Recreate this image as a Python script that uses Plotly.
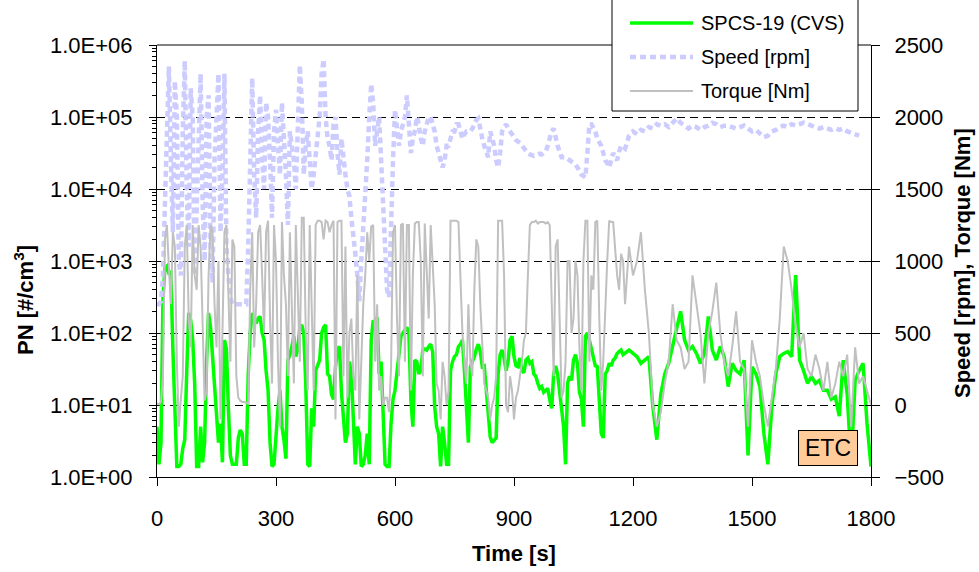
import plotly.graph_objects as go

# ---------------- data ----------------
# 5 s steps up to 1175 s, 10 s steps afterwards
time_s = list(range(0, 1180, 5)) + list(range(1180, 1801, 10))
speed_time_s = list(range(0, 1180, 5)) + list(range(1180, 1771, 10))

pn_spcs19 = [
    # 0 .. 95 (5 s)
    5, 1.5, 3, 300, 800, 850, 680, 700, 60, 8,
    1.4, 1.4, 1.5, 2.5, 3.3, 30, 190, 150, 80, 20,
    # 100 .. 195
    1.4, 1.4, 5, 1.6, 3, 40, 190, 120, 47, 20,
    10, 3, 5.5, 1.6, 80, 60, 9, 2, 1.5, 1.5,
    # 200 .. 295
    1.5, 3.5, 4.5, 4, 1.5, 1.5, 27, 100, 190, 150,
    136, 160, 170, 100, 80, 30, 16, 3, 1.4, 1.5,
    # 300 .. 395
    4, 9, 16, 5, 3.3, 1.8, 42, 50, 65, 90,
    47, 60, 120, 130, 100, 20, 1.5, 1.4, 9, 5,
    # 400 .. 495
    30, 35, 42, 100, 120, 130, 27, 25, 14, 12,
    34, 60, 65, 15, 5.5, 3, 4, 40, 27, 8,
    # 500 .. 595
    1.5, 5, 4, 1.4, 1.5, 2, 4, 1.5, 80, 150,
    136, 165, 27, 40, 5.5, 1.5, 1.4, 1.4, 5.5, 12,
    # 600 .. 695
    16, 30, 47, 90, 100, 110, 120, 100, 12, 5,
    42, 40, 27, 30, 58, 60, 58, 65, 70, 55,
    # 700 .. 795
    9.5, 5, 4, 1.4, 5, 3, 1.5, 1.5, 30, 40,
    47, 50, 65, 70, 80, 30, 9.5, 3, 34, 40,
    # 800 .. 895
    47, 60, 70, 55, 34, 35, 16, 6, 3.6, 3,
    3.3, 3.5, 27, 50, 58, 45, 30, 40, 80, 90,
    # 900 .. 995
    47, 35, 34, 45, 30, 28, 42, 45, 38, 40,
    27, 25, 20, 17, 18, 15, 16, 17, 12, 9,
    # 1000 .. 1095
    27, 35, 27, 15, 9.5, 5, 1.5, 20, 25, 22,
    42, 50, 38, 15, 12, 5, 90, 100, 80, 60,
    # 1100 .. 1175
    47, 35, 34, 12, 4, 3.5, 27, 30, 38, 35,
    42, 45, 52, 55, 58, 50,
    # 1180 .. 1800 (10 s)
    52, 58,
    52, 47, 38, 42, 47, 9.5, 3.3, 14, 27, 38,
    65, 110, 200, 80, 58, 65, 52, 38, 52, 170,
    58, 42, 65, 47, 18, 38, 30, 27, 42, 2,
    34, 27, 18, 4, 1.5, 9.5, 27, 47, 52, 55,
    47, 640, 42, 30, 20, 25, 20, 22, 16, 16,
    12, 13, 7, 42, 14, 1.5, 22, 30, 38, 5.5,
    1.4,
]

speed_rpm = [
    # 0 .. 95 (5 s)
    700, 700, 720, 900, 1400, 1900, 2350, 1700, 1200, 2250,
    2000, 1000, 900, 1900, 2390, 1500, 1100, 2200, 2000, 900,
    # 100 .. 195
    1300, 1800, 2300, 1400, 1000, 2000, 2150, 1100, 850, 1700,
    2000, 2300, 1200, 1600, 2300, 1100, 900, 750, 700, 700,
    # 200 .. 295
    700, 700, 700, 700, 700, 700, 1100, 1800, 2270, 1600,
    1300, 1900, 2150, 1700, 1500, 2100, 2000, 1700, 1300, 1900,
    # 300 .. 395
    2050, 1800, 1600, 2100, 1900, 1600, 1250, 1900, 1800, 1700,
    1500, 2000, 2360, 2100, 1600, 1800, 1900, 1700, 1500, 1600,
    # 400 .. 495
    1750, 1850, 2000, 2300, 2400, 2000, 1850, 1800, 1700, 1950,
    2000, 1750, 1600, 1850, 1700, 1600, 1500, 1450, 1300, 1200,
    # 500 .. 595
    1050, 900, 720, 1000, 1200, 1500, 1700, 2000, 2230, 2100,
    1800, 1900, 2000, 1700, 1400, 1100, 800, 750, 1300, 1700,
    # 600 .. 695
    2050, 1950, 1800, 1900, 1950, 2000, 2150, 1900, 1750, 1850,
    1900, 2000, 1950, 1850, 1800, 1900, 1950, 2000, 2000, 1950,
    # 700 .. 795
    1900, 1800, 1750, 1700, 1650, 1700, 1800, 1800, 1850, 1900,
    1900, 1950, 1950, 1900, 1850, 1880, 1900, 1900, 1900, 1920,
    # 800 .. 895
    1950, 1980, 1990, 1900, 1850, 1800, 1750, 1720, 1900, 1850,
    1800, 1700, 1650, 1750, 1900, 1930, 1950, 1920, 1900, 1880,
    # 900 .. 995
    1850, 1840, 1830, 1820, 1800, 1780, 1760, 1750, 1740, 1735,
    1730, 1735, 1740, 1745, 1740, 1750, 1760, 1800, 1850, 1900,
    # 1000 .. 1095
    1920, 1850, 1800, 1760, 1720, 1720, 1720, 1710, 1700, 1690,
    1680, 1670, 1650, 1620, 1600, 1590, 1580, 1750, 1950, 1950,
    # 1100 .. 1175
    1930, 1900, 1850, 1830, 1800, 1750, 1700, 1680, 1650, 1700,
    1750, 1720, 1700, 1760, 1800, 1790,
    # 1180 .. 1770 (10 s)
    1780, 1870,
    1900, 1880, 1910, 1900, 1930, 1920, 1950, 1940, 1950, 1930,
    1960, 1990, 1960, 1940, 1920, 1940, 1930, 1910, 1930, 1940,
    1960, 1950, 1930, 1940, 1940, 1930, 1920, 1930, 1940, 1920,
    1900, 1910, 1880, 1860, 1870, 1900, 1910, 1930, 1940, 1930,
    1950, 1940, 1950, 1960, 1950, 1940, 1930, 1920, 1930, 1920,
    1910, 1920, 1910, 1920, 1900, 1890, 1880, 1870,
]

torque_nm = [
    # 0 .. 95 (5 s)
    10, 5, 20, 200, 1150, 1250, 950, 700, 1200, 1100,
    300, -150, 40, 200, 1100, 1250, 600, 400, 1250, 900,
    # 100 .. 195
    800, 1250, 1100, 600, 30, 100, 900, 1250, 1200, 700,
    400, 1000, -100, 500, 1200, 1250, 700, 300, 1150, 1100,
    # 200 .. 295
    200, 50, 30, 20, 20, 15, 10, 800, 1200, 400,
    700, 1200, 1250, 900, 500, 1200, 1280, 600, 150, 1250,
    # 300 .. 395
    1000, 300, -150, 1270, 900, 700, 200, 1200, 650, 150,
    1250, 700, 300, 1300, 1300, 500, 100, 1250, 600, 100,
    # 400 .. 495
    1250, 1280, 1280, 1270, 1150, 1280, 1270, 1200, 1250, 1280,
    -100, 1270, 1280, 1280, 200, 1100, 50, 500, 600, 200,
    # 500 .. 595
    100, 900, -100, 300, 700, 900, 1200, 1000, 1240, 1250,
    300, 700, 100, 200, 0, 50, 50, -50, 250, 1200,
    # 600 .. 695
    1250, 600, 200, 1250, 1260, 300, 1250, 1250, 100, 900,
    1260, 1270, 1270, 1000, 200, 1260, 900, 600, 1250, 1000,
    # 700 .. 795
    700, 150, 100, -100, 300, 200, 0, 100, 1280, 1280,
    1280, 1280, 1270, 900, 500, 300, 150, 700, 300, 200,
    # 800 .. 895
    800, 1150, 1100, 700, 400, 150, 100, 50, -100, 0,
    50, 200, 1280, 1280, 1280, 900, 0, -50, 200, 100,
    # 900 .. 995
    -100, 50, 100, 200, 300, 450, 500, 900, 1250, 1270,
    1270, 1280, 1260, 1270, 1270, 1270, 1260, 1270, 1250, 800,
    # 1000 .. 1095
    200, 1100, 1150, 600, 50, 100, 300, 1000, 1000, 500,
    600, 1000, 900, 400, 100, 1000, 1280, 1280, 300, 900,
    # 1100 .. 1175
    800, 1270, 1280, 600, 100, 300, 700, 1000, 1280, 1270,
    1270, 1100, 900, 800, 1050, 1000,
    # 1180 .. 1800 (10 s)
    700, 1100,
    900, 1000, 1200, 800, 500, 0, -150, -50, 150, 300,
    700, 450, 400, 250, 300, 900, 700, 500, 150, 500,
    650, 850, 500, 300, 200, 400, 650, 300, 250, -150,
    450, 300, 200, 0, -150, 50, 250, 600, 1100, 1000,
    800, 550, 400, 500, 250, 200, 350, 250, 100, 300,
    50, 150, 300, 200, 350, -150, 400, 150, 200, 100,
    0,
]

assert len(pn_spcs19) == len(time_s), (len(pn_spcs19), len(time_s))
assert len(torque_nm) == len(time_s), (len(torque_nm), len(time_s))
assert len(speed_rpm) == len(speed_time_s), (len(speed_rpm), len(speed_time_s))

pn_ticks = [1, 10, 100, 1000, 10000, 100000, 1000000]
pn_ticktext = ["1.0E+00", "1.0E+01", "1.0E+02", "1.0E+03",
               "1.0E+04", "1.0E+05", "1.0E+06"]
right_ticks = [-500, 0, 500, 1000, 1500, 2000, 2500]
time_ticks = [0, 300, 600, 900, 1200, 1500, 1800]

# ---------------- styling ----------------
FONT = "Liberation Sans, Arial, sans-serif"
GREEN = "#00FF00"
BLUE = "#CCCCFF"
GRAY = "#C0C0C0"

W, H = 979, 572
L, R, T, B = 157, 871, 45, 477   # plot area in pixels


def px_x(px):
    return (px - L) / (R - L)


def px_y(py):
    return (B - py) / (B - T)


minor_vals = [m * 10 ** k for k in range(6) for m in range(2, 10)]

fig = go.Figure()
fig.add_trace(go.Scatter(x=time_s, y=pn_spcs19, name="SPCS-19 (CVS)",
                         mode="lines", line=dict(color=GREEN, width=3.5),
                         yaxis="y"))
fig.add_trace(go.Scatter(x=speed_time_s, y=speed_rpm, name="Speed [rpm]",
                         mode="lines",
                         line=dict(color=BLUE, width=4.5, dash="6px,4px"),
                         yaxis="y2"))
fig.add_trace(go.Scatter(x=time_s, y=torque_nm, name="Torque [Nm]",
                         mode="lines", line=dict(color=GRAY, width=2),
                         yaxis="y2"))
# carrier for the inner half of the right-axis tick marks
fig.add_trace(go.Scatter(x=[None], y=[None], yaxis="y3", showlegend=False,
                         hoverinfo="skip"))

fig.update_layout(
    width=W, height=H,
    margin=dict(l=L, r=W - R, t=T, b=H - B, pad=0),
    paper_bgcolor="white", plot_bgcolor="white",
    showlegend=False,
    font=dict(family=FONT, size=22, color="black"),
    xaxis=dict(range=[0, 1800], tickvals=time_ticks, showgrid=False,
               zeroline=False, showline=True, linecolor="black", linewidth=1,
               ticks="outside", ticklen=8, tickcolor="black",
               ticklabelstandoff=14, tickfont=dict(size=22)),
    yaxis=dict(type="log", range=[0, 6], tickvals=pn_ticks,
               ticktext=pn_ticktext, showgrid=True, gridcolor="black",
               gridwidth=1, griddash="8px,5px", zeroline=False,
               showline=True, linecolor="black", linewidth=1,
               ticks="outside", ticklen=7, tickcolor="black",
               ticklabelstandoff=12, tickfont=dict(size=22),
               minor=dict(tickvals=minor_vals, ticks="outside", ticklen=4,
                          tickcolor="black", showgrid=False)),
    yaxis2=dict(range=[-500, 2500], tickvals=right_ticks, overlaying="y",
                side="right", anchor="x", showgrid=False, zeroline=False,
                showline=True, linecolor="black", linewidth=1,
                ticks="outside", ticklen=8, tickcolor="black",
                ticklabelstandoff=10, tickfont=dict(size=22)),
    yaxis3=dict(range=[-500, 2500], tickvals=right_ticks, overlaying="y",
                side="right", anchor="x", showgrid=False, zeroline=False,
                showline=False, ticks="inside", ticklen=6, tickcolor="black",
                showticklabels=False),
)

shapes = []
# plot-area top border
shapes.append(dict(type="line", xref="paper", yref="paper", x0=0, x1=1,
                   y0=1, y1=1, line=dict(color="#808080", width=2)))
# legend box
shapes.append(dict(type="rect", xref="paper", yref="paper",
                   x0=px_x(612), x1=px_x(858), y0=px_y(111), y1=px_y(-1),
                   line=dict(color="black", width=1), fillcolor="white",
                   layer="above"))
legend_rows = [("SPCS-19 (CVS)", dict(color=GREEN, width=3.5), 23),
               ("Speed [rpm]", dict(color=BLUE, width=4.5, dash="6px,4px"), 57),
               ("Torque [Nm]", dict(color=GRAY, width=2), 91)]
annotations = []
for label, ln, ypx in legend_rows:
    shapes.append(dict(type="line", xref="paper", yref="paper",
                       x0=px_x(630), x1=px_x(693), y0=px_y(ypx), y1=px_y(ypx),
                       line=ln, layer="above"))
    annotations.append(dict(text=label, xref="paper", yref="paper",
                            x=px_x(699), y=px_y(ypx), xanchor="left",
                            yanchor="middle", showarrow=False,
                            font=dict(size=20, family=FONT)))

# axis titles
annotations.append(dict(text="<b>PN [#/cm<sup>3</sup>]</b>", xref="paper",
                        yref="paper", x=px_x(24), y=px_y(300), textangle=-90,
                        xanchor="center", yanchor="middle", showarrow=False,
                        font=dict(size=22, family=FONT)))
annotations.append(dict(text="<b>Speed [rpm], Torque [Nm]</b>", xref="paper",
                        yref="paper", x=px_x(962), y=px_y(263), textangle=-90,
                        xanchor="center", yanchor="middle", showarrow=False,
                        font=dict(size=22, family=FONT)))
annotations.append(dict(text="<b>Time [s]</b>", xref="paper", yref="paper",
                        x=0.5, y=px_y(553), xanchor="center",
                        yanchor="middle", showarrow=False,
                        font=dict(size=22, family=FONT)))
# ETC label
annotations.append(dict(text="ETC", xref="paper", yref="paper",
                        x=px_x(828), y=px_y(448), xanchor="center",
                        yanchor="middle", showarrow=False,
                        bgcolor="#FFCC99", bordercolor="black", borderwidth=1,
                        borderpad=3, width=52, height=28,
                        font=dict(size=23, family=FONT)))

fig.update_layout(shapes=shapes, annotations=annotations)
fig.write_html("out.html")
